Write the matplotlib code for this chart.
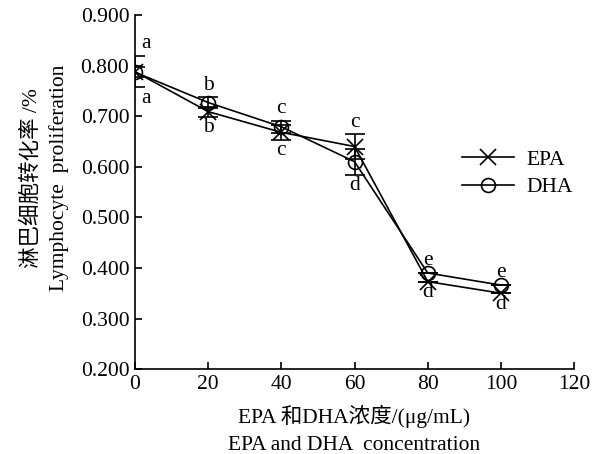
import matplotlib
matplotlib.use('Agg')
import matplotlib.pyplot as plt
from matplotlib.lines import Line2D

# --- Data ---
conc = [0, 20, 40, 60, 80, 100]
epa = [0.788, 0.709, 0.668, 0.640, 0.373, 0.350]
dha = [0.787, 0.727, 0.679, 0.610, 0.390, 0.366]
epa_err = [0.031, 0.010, 0.015, 0.024, 0.0, 0.0]
dha_err = [0.010, 0.010, 0.012, 0.026, 0.0, 0.0]
letters_top = ['a', 'b', 'c', 'c', 'e', 'e']
letters_bot = ['a', 'b', 'c', 'd', 'd', 'd']

plt.rcParams['font.family'] = ['Liberation Serif', 'Noto Sans CJK SC']
FS = 15.5

fig = plt.figure(figsize=(6.05, 4.54), dpi=100)
ax = fig.add_axes([0.223, 0.187, 0.726, 0.780])

ax.errorbar(conc, epa, yerr=epa_err, color='black', marker='x', markersize=11,
            mew=1.2, lw=1.2, capsize=7, elinewidth=1.2, capthick=1.2)
ax.errorbar(conc, dha, yerr=dha_err, color='black', marker='o', markersize=10,
            mfc='none', mew=1.2, lw=1.2, capsize=7, elinewidth=1.2,
            capthick=1.2)

# significance letters above and below each pair of points
for i, x in enumerate(conc):
    top = max(epa[i] + epa_err[i], dha[i] + dha_err[i])
    bot = min(epa[i] - epa_err[i], dha[i] - dha_err[i])
    dx = 8 if x == 0 else 0
    ax.annotate(letters_top[i], (x, top), xytext=(dx, 2),
                textcoords='offset points', ha='center', va='bottom',
                fontsize=FS)
    ax.annotate(letters_bot[i], (x, bot), xytext=(dx, -1),
                textcoords='offset points', ha='center', va='top',
                fontsize=FS)

ax.set_xlim(0, 120)
ax.set_ylim(0.2, 0.9)
ax.set_xticks(range(0, 121, 20))
ax.set_yticks([0.2, 0.3, 0.4, 0.5, 0.6, 0.7, 0.8, 0.9])
ax.set_yticklabels([f'{v:.3f}' for v in ax.get_yticks()])
ax.tick_params(direction='in', length=5, width=1.2, labelsize=FS, pad=4)
ax.spines['top'].set_visible(False)
ax.spines['right'].set_visible(False)
for s in ('left', 'bottom'):
    ax.spines[s].set_linewidth(1.2)

ax.set_xlabel('EPA 和DHA浓度/(μg/mL)\nEPA and DHA  concentration',
              fontsize=FS, linespacing=1.6, labelpad=8)
ax.set_ylabel('淋巴细胞转化率 /%\nLymphocyte  proliferation',
              fontsize=FS, linespacing=1.45)
ax.yaxis.set_label_coords(-0.151, 0.54)

handles = [Line2D([], [], color='black', marker='x', markersize=11, mew=1.2, lw=1.2),
           Line2D([], [], color='black', marker='o', markersize=10, mfc='none',
                  mew=1.2, lw=1.2)]
ax.legend(handles, ['EPA', 'DHA'], loc='upper left', bbox_to_anchor=(0.72, 0.65),
          frameon=False, fontsize=FS, handlelength=2.4, handletextpad=0.6,
          borderpad=0, labelspacing=0.35)

fig.savefig('out.png', dpi=100)
